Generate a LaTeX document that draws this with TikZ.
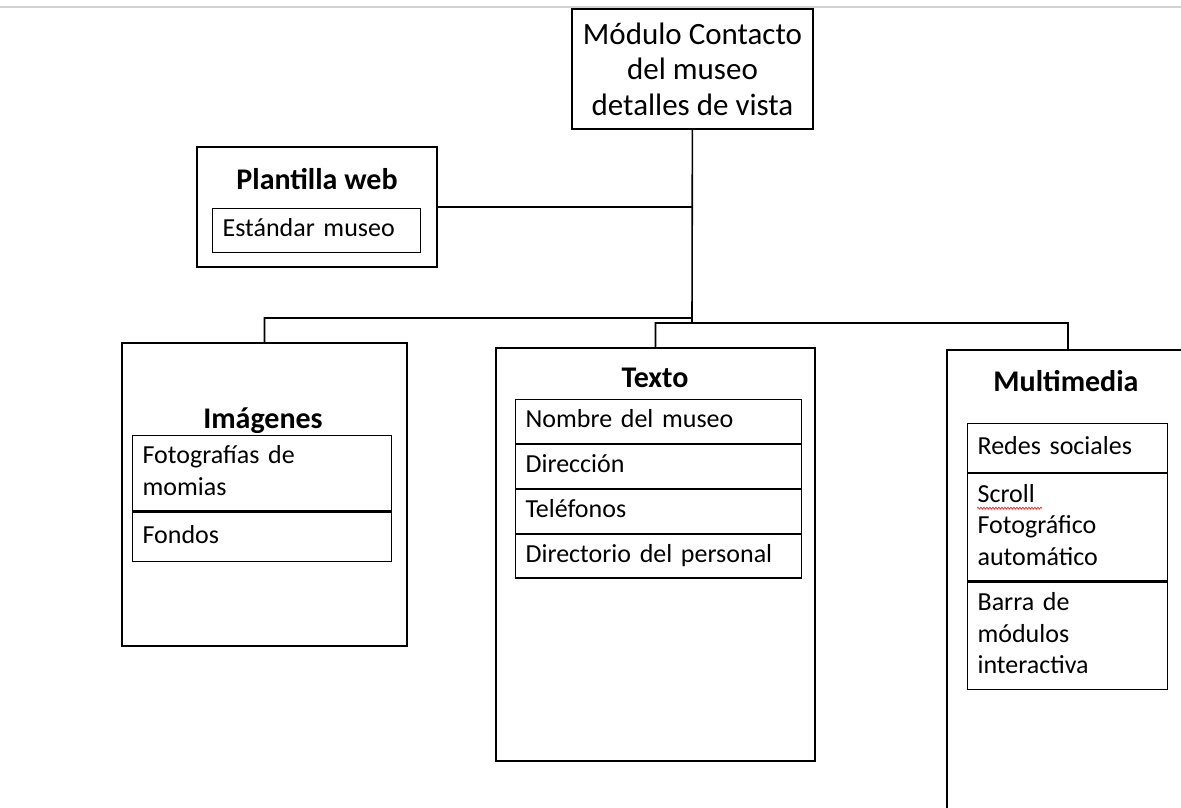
\documentclass[tikz,border=0pt]{standalone}
\usepackage{fontspec}
\setmainfont{Carlito}
\usetikzlibrary{positioning,decorations.pathmorphing}

\begin{document}
\begin{tikzpicture}[%
        x=1pt, y=-1pt,
        every node/.style={rectangle, inner sep=0pt},
        box/.style={draw, line width=1.4pt},
        title/.style={anchor=base, font=\fontsize{30}{36}\selectfont\bfseries},
        row/.style={draw, line width=1.2pt, text width=#1, align=left,
          inner xsep=10pt, inner ysep=6pt, font=\fontsize{26}{31.7}\selectfont,
          execute at begin node=\strut, execute at end node=\strut},
        link/.style={line width=1.6pt}
      ]
      \useasboundingbox (0,0) rectangle (1181,807);
      \clip (0,0) rectangle (1181,807);
      \draw [gray!35, line width=2pt] (0,7) -- (1181,7);
      % top
      \node [] (main) [box, minimum width=241pt, minimum height=120pt, align=center,
        font=\fontsize{31}{35.5}\selectfont] at (692.5,69) {Módulo Contacto\\del museo\\detalles de vista};
      % plantilla
      \node [] (plant) [box, minimum width=240pt, minimum height=120pt] at (317,207) {};
      \node [] (plantT) [title] at (317,189) {Plantilla web};
      \node [] (plant1) [row=188pt, anchor=north west, minimum height=43pt] at (212,208) {Estándar museo};
      % imagenes
      \node [] (img) [box, minimum width=285pt, minimum height=303pt] at (264.5,494.5) {};
      \node [] (imgT) [title] at (263,428) {Imágenes};
      \node [] (img1) [row=239pt, anchor=north west] at (132,435) {Fotografías de\\momias};
      \node [] (img2) [row=239pt, below=0pt of img1, minimum height=49pt] {Fondos};
      % texto
      \node [] (txt) [box, minimum width=319pt, minimum height=413pt] at (655.5,554.5) {};
      \node [] (txtT) [title] at (655,387) {Texto};
      \node [] (txt1) [row=266pt, anchor=north west] at (515,399) {Nombre del museo};
      \node [] (txt2) [row=266pt, below=0pt of txt1] {Dirección};
      \node [] (txt3) [row=266pt, below=0pt of txt2] {Teléfonos};
      \node [] (txt4) [row=266pt, below=0pt of txt3] {Directorio del personal};
      % multimedia
      \node [] (mm) [box, minimum width=242pt, minimum height=500pt] at (1068,600) {};
      \node [] (mmT) [title] at (1066,391) {Multimedia};
      \node [] (mm1) [row=180pt, anchor=north west, minimum height=49pt] at (967,423) {Redes sociales};
      \node [] (mm2) [row=180pt, below=0pt of mm1] {Scroll\\Fotográfico\\automático};
      \node [] (mm3) [row=180pt, below=0pt of mm2] {Barra de\\módulos\\interactiva};
      \draw [red, line width=0.6pt, decorate, decoration={snake, amplitude=1pt, segment length=3pt}]
        ([xshift=10pt,yshift=-35pt]mm2.north west) -- ([xshift=75pt,yshift=-35pt]mm2.north west);
      % links
      \coordinate (j1) at (692,318);
      \coordinate (j2) at (692,323);
      \path [draw, link] (main) -- (j2)
      (plant) -- (plant -| main)
      (j1) -| (img)
      (j2) -| (txt)
      (j2) -| (mm);
     \end{tikzpicture}
\end{document}
